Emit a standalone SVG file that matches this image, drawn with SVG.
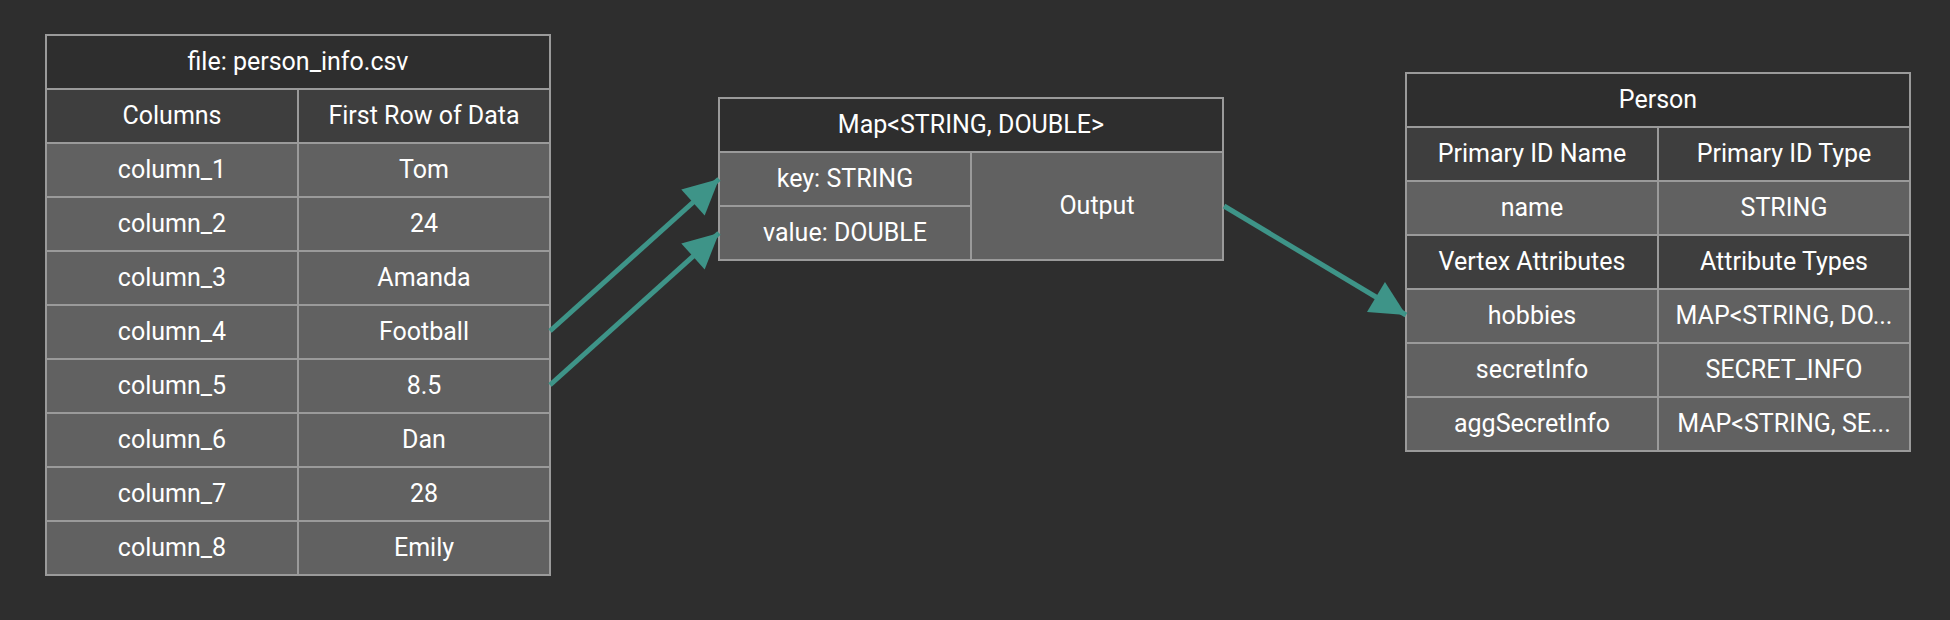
<svg xmlns="http://www.w3.org/2000/svg" width="1950" height="620" viewBox="0 0 1950 620">
<defs>
<style>
.bg{fill:#2e2e2e}
.h{fill:#2e2e2e;stroke:#9a9a9a;stroke-width:2}
.s{fill:#3e3e3e;stroke:#9a9a9a;stroke-width:2}
.d{fill:#616161;stroke:#9a9a9a;stroke-width:2}
text{font-family:Roboto,"Liberation Sans",sans-serif;font-size:25px;fill:#ffffff;text-anchor:middle;dominant-baseline:central}
.c{stroke:#3e9488;stroke-width:5;fill:none}
</style>
<marker id="ah" viewBox="0 0 10 10" refX="10" refY="5" markerWidth="7.4" markerHeight="7" markerUnits="strokeWidth" orient="auto">
<path d="M0,0 L10,5 L0,10 z" fill="#3e9488"/>
</marker>
</defs>
<rect class="bg" x="0" y="0" width="1950" height="620"/>

<g id="csv">
<rect class="h" x="46" y="35" width="504" height="54"/>
<text x="298" y="61">file: person_info.csv</text>
<rect class="s" x="46" y="89" width="252" height="54"/>
<rect class="s" x="298" y="89" width="252" height="54"/>
<text x="172" y="115">Columns</text>
<text x="424" y="115">First Row of Data</text>
<rect class="d" x="46" y="143" width="252" height="54"/><rect class="d" x="298" y="143" width="252" height="54"/>
<text x="172" y="169">column_1</text><text x="424" y="169">Tom</text>
<rect class="d" x="46" y="197" width="252" height="54"/><rect class="d" x="298" y="197" width="252" height="54"/>
<text x="172" y="223">column_2</text><text x="424" y="223">24</text>
<rect class="d" x="46" y="251" width="252" height="54"/><rect class="d" x="298" y="251" width="252" height="54"/>
<text x="172" y="277">column_3</text><text x="424" y="277">Amanda</text>
<rect class="d" x="46" y="305" width="252" height="54"/><rect class="d" x="298" y="305" width="252" height="54"/>
<text x="172" y="331">column_4</text><text x="424" y="331">Football</text>
<rect class="d" x="46" y="359" width="252" height="54"/><rect class="d" x="298" y="359" width="252" height="54"/>
<text x="172" y="385">column_5</text><text x="424" y="385">8.5</text>
<rect class="d" x="46" y="413" width="252" height="54"/><rect class="d" x="298" y="413" width="252" height="54"/>
<text x="172" y="439">column_6</text><text x="424" y="439">Dan</text>
<rect class="d" x="46" y="467" width="252" height="54"/><rect class="d" x="298" y="467" width="252" height="54"/>
<text x="172" y="493">column_7</text><text x="424" y="493">28</text>
<rect class="d" x="46" y="521" width="252" height="54"/><rect class="d" x="298" y="521" width="252" height="54"/>
<text x="172" y="547">column_8</text><text x="424" y="547">Emily</text>
</g>

<g id="map">
<rect class="h" x="719" y="98" width="504" height="54"/>
<text x="971" y="124">Map&lt;STRING, DOUBLE&gt;</text>
<rect class="d" x="719" y="152" width="252" height="54"/>
<text x="845" y="178">key: STRING</text>
<rect class="d" x="719" y="206" width="252" height="54"/>
<text x="845" y="232">value: DOUBLE</text>
<rect class="d" x="971" y="152" width="252" height="108"/>
<text x="1097" y="205">Output</text>
</g>

<g id="person">
<rect class="h" x="1406" y="73" width="504" height="54"/>
<text x="1658" y="99">Person</text>
<rect class="s" x="1406" y="127" width="252" height="54"/><rect class="s" x="1658" y="127" width="252" height="54"/>
<text x="1532" y="153">Primary ID Name</text><text x="1784" y="153">Primary ID Type</text>
<rect class="d" x="1406" y="181" width="252" height="54"/><rect class="d" x="1658" y="181" width="252" height="54"/>
<text x="1532" y="207">name</text><text x="1784" y="207">STRING</text>
<rect class="s" x="1406" y="235" width="252" height="54"/><rect class="s" x="1658" y="235" width="252" height="54"/>
<text x="1532" y="261">Vertex Attributes</text><text x="1784" y="261">Attribute Types</text>
<rect class="d" x="1406" y="289" width="252" height="54"/><rect class="d" x="1658" y="289" width="252" height="54"/>
<text x="1532" y="315">hobbies</text><text x="1784" y="315">MAP&lt;STRING, DO...</text>
<rect class="d" x="1406" y="343" width="252" height="54"/><rect class="d" x="1658" y="343" width="252" height="54"/>
<text x="1532" y="369">secretInfo</text><text x="1784" y="369">SECRET_INFO</text>
<rect class="d" x="1406" y="397" width="252" height="54"/><rect class="d" x="1658" y="397" width="252" height="54"/>
<text x="1532" y="423">aggSecretInfo</text><text x="1784" y="423">MAP&lt;STRING, SE...</text>
</g>

<g id="connectors">
<line class="c" x1="550" y1="331" x2="719" y2="179" marker-end="url(#ah)"/>
<line class="c" x1="550" y1="385" x2="719" y2="233" marker-end="url(#ah)"/>
<line class="c" x1="1224" y1="206" x2="1406" y2="315" marker-end="url(#ah)"/>
</g>
</svg>
